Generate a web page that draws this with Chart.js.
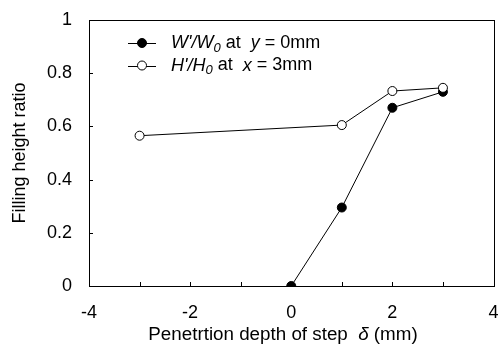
<!DOCTYPE html>
<html>
<head>
<meta charset="utf-8">
<script src="https://cdn.jsdelivr.net/npm/chart.js@4.4.1/dist/chart.umd.min.js"></script>
<style>
  html, body { margin: 0; padding: 0; background: #fff; }
  #wrap { width: 499px; height: 349px; }
</style>
</head>
<body>
<div id="wrap"><canvas id="chart1"></canvas></div>
<script>
// data
const depthW = [0, 1, 2, 3];
const ratioW = [0, 0.295, 0.67, 0.73];
const depthH = [-3, 1, 2, 3];
const ratioH = [0.565, 0.605, 0.733, 0.745];
const xTicksShown = [-4, -2, 0, 2, 4];

const FONT = 'Liberation Sans, Arial, sans-serif';
const FS = 18;

function toPoints(xs, ys) {
  return xs.map((x, i) => ({ x: x, y: ys[i] }));
}

// draws a run of [text, style] parts; style: n normal, i italic, is italic subscript
function drawParts(ctx, parts, x, y, fs) {
  parts.forEach(p => {
    const st = p[1];
    const size = st === 'is' ? 13 : fs;
    ctx.font = (st[0] === 'i' ? 'italic ' : '') + size + 'px ' + FONT;
    ctx.fillText(p[0], x, st === 'is' ? y + 5 : y);
    x += ctx.measureText(p[0]).width;
  });
}
function partsWidth(ctx, parts, fs) {
  let w = 0;
  parts.forEach(p => {
    const st = p[1];
    ctx.font = (st[0] === 'i' ? 'italic ' : '') + (st === 'is' ? 13 : fs) + 'px ' + FONT;
    w += ctx.measureText(p[0]).width;
  });
  return w;
}

// inward ticks + frame box + x title
const xTitle = [['Penetrtion depth of step  ', 'n'], ['\u03b4', 'i'], [' (mm)', 'n']];
const framePlugin = {
  id: 'frame',
  afterDraw(chart) {
    const ctx = chart.ctx;
    const a = chart.chartArea;
    const xs = chart.scales.x, ys = chart.scales.y;
    ctx.save();
    ctx.strokeStyle = '#000';
    ctx.lineWidth = 1;
    ctx.strokeRect(Math.round(a.left) + 0.5, Math.round(a.top) + 0.5,
      Math.round(a.right - a.left), Math.round(a.bottom - a.top));
    ctx.beginPath();
    xs.ticks.forEach(t => {
      const px = Math.round(xs.getPixelForValue(t.value)) + 0.5;
      ctx.moveTo(px, a.bottom);
      ctx.lineTo(px, a.bottom - 4);
    });
    ys.ticks.forEach(t => {
      const py = Math.round(ys.getPixelForValue(t.value)) + 0.5;
      ctx.moveTo(a.left, py);
      ctx.lineTo(a.left + 4, py);
    });
    ctx.stroke();
    ctx.fillStyle = '#000';
    ctx.textBaseline = 'middle';
    const w = partsWidth(ctx, xTitle, 18.8);
    drawParts(ctx, xTitle, 283 - w / 2, 335, 18.8);
    ctx.restore();
  }
};

// legend with italic / subscript text
const legendRows = [
  { filled: true, parts: [["W'/W", 'i'], ['0', 'is'], [' at  ', 'n'], ['y', 'i'], [' = 0mm', 'n']] },
  { filled: false, parts: [["H'/H", 'i'], ['0', 'is'], [' at  ', 'n'], ['x', 'i'], [' = 3mm', 'n']] }
];
const legendPlugin = {
  id: 'legendTxt',
  afterDraw(chart) {
    const ctx = chart.ctx;
    ctx.save();
    legendRows.forEach((row, r) => {
      const y = 43 + r * 22.5;
      ctx.strokeStyle = '#000';
      ctx.lineWidth = 1;
      ctx.beginPath();
      ctx.moveTo(128, Math.round(y) + 0.5);
      ctx.lineTo(156, Math.round(y) + 0.5);
      ctx.stroke();
      ctx.beginPath();
      ctx.arc(142, y, 4.5, 0, Math.PI * 2);
      ctx.fillStyle = row.filled ? '#000' : '#fff';
      ctx.fill();
      ctx.stroke();
      ctx.fillStyle = '#000';
      ctx.textBaseline = 'middle';
      drawParts(ctx, row.parts, 171, y, FS);
    });
    ctx.restore();
  }
};

const chart1 = new Chart(document.getElementById('chart1'), {
  type: 'scatter',
  data: {
    datasets: [{
      label: 'W',
      data: toPoints(depthW, ratioW),
      showLine: true,
      borderColor: '#000',
      borderWidth: 1,
      backgroundColor: '#000',
      pointBackgroundColor: '#000',
      pointBorderColor: '#000',
      pointRadius: 4.5,
      pointBorderWidth: 1,
      order: 2
    }, {
      label: 'H',
      data: toPoints(depthH, ratioH),
      showLine: true,
      borderColor: '#000',
      borderWidth: 1,
      backgroundColor: '#fff',
      pointBackgroundColor: '#fff',
      pointBorderColor: '#000',
      pointRadius: 4.5,
      pointBorderWidth: 1,
      order: 1
    }]
  },
  options: {
    responsive: true,
    maintainAspectRatio: false,
    animation: false,
    layout: { padding: { top: 20, right: 4, left: 0, bottom: 0 } },
    plugins: { legend: { display: false }, tooltip: { enabled: false } },
    scales: {
      x: {
        type: 'linear', min: -4, max: 4,
        grid: { display: false, drawTicks: false },
        border: { display: false },
        ticks: {
          stepSize: 1, padding: 16, color: '#000', autoSkip: false, maxRotation: 0,
          font: { family: FONT, size: FS },
          callback: v => xTicksShown.includes(v) ? String(v) : ''
        },
        afterFit: s => { s.height = 63; s.paddingLeft = 0; s.paddingRight = 0; }
      },
      y: {
        min: 0, max: 1,
        grid: { display: false, drawTicks: false },
        border: { display: false },
        ticks: {
          stepSize: 0.2, padding: 17, color: '#000',
          font: { family: FONT, size: FS },
          callback: v => String(Math.round(v * 10) / 10)
        },
        title: { display: true, text: 'Filling height ratio', color: '#000',
          font: { family: FONT, size: FS }, padding: 9 },
        afterFit: s => { s.width = 89; s.paddingTop = 0; s.paddingBottom = 0; }
      }
    }
  },
  plugins: [framePlugin, legendPlugin]
});
</script>
</body>
</html>
